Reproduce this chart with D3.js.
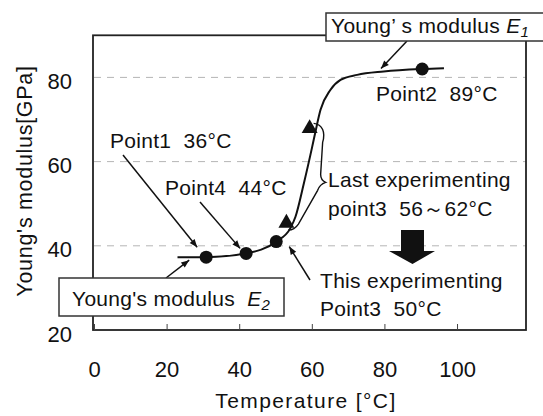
<!DOCTYPE html>
<html>
<head>
<meta charset="utf-8">
<script src="https://cdn.jsdelivr.net/npm/d3@7"></script>
<style>
body{margin:0;background:#fff}
text{font-family:"Liberation Sans",Arial,sans-serif;fill:#111}
</style>
</head>
<body>
<div id="main"></div>
<script>
// values (temperature in °C, modulus in GPa)
const curveTemp = [23, 30.9, 41.9, 50.2, 54.1, 55.5, 57.8, 60.1, 61, 62.4, 65.1, 67.9, 72.5, 79.8, 90.4, 96.4]
const curveMod = [37.3, 37.3, 38.2, 41.0, 44.2, 46.9, 54.8, 63.5, 67.1, 72.3, 77.0, 79.4, 80.6, 81.4, 82.0, 82.2]
const pointTemp = [30.9, 41.9, 50.2, 90.4]
const pointMod = [37.3, 38.2, 41.0, 82.0]
const triTemp = [53.0, 59.4]
const triMod = [45.4, 67.9]
const xTicks = [0, 20, 40, 60, 80, 100]
const yTicks = [20, 40, 60, 80]
const gridVals = [40, 60, 80]

const W = 543, H = 416

function initViz()
{
    let svg = d3.select("#main").append("svg").attr("width", W).attr("height", H)

    let x = d3.scaleLinear().domain([0, 119]).range([94, 526])
    let y = d3.scaleLinear().domain([20, 90]).range([330, 35.3])

    svg.append("defs").append("marker")
    .attr("id", "head")
    .attr("viewBox", "0 0 10 10")
    .attr("refX", 10).attr("refY", 5)
    .attr("markerWidth", 9).attr("markerHeight", 8)
    .attr("markerUnits", "userSpaceOnUse")
    .attr("orient", "auto")
    .append("path").attr("d", "M0,1L10,5L0,9Z").attr("fill", "#111")

    // dashed grid
    svg.selectAll(".grid")
    .data(gridVals)
    .enter()
    .append("line")
    .attr("class", "grid")
    .attr("x1", x(0)).attr("x2", x(119))
    .attr("y1", d => y(d)).attr("y2", d => y(d))
    .attr("stroke", "#b5b5b5")
    .attr("stroke-width", 1)
    .attr("stroke-dasharray", "7,6")

    // frame
    svg.append("rect")
    .attr("x", x(0) - 1).attr("y", y(90))
    .attr("width", x(119) - x(0) + 1).attr("height", y(20) - y(90))
    .attr("fill", "none").attr("stroke", "#222").attr("stroke-width", 1.8)

    let xAxis = svg.append("g")
    .attr("transform", "translate(0," + y(20) + ")")
    .call(d3.axisBottom(x).tickValues(xTicks).tickSize(-6).tickPadding(31))
    xAxis.select(".domain").remove()
    xAxis.selectAll("line").attr("stroke", "#444")
    xAxis.selectAll("text").style("font-size", "22px").attr("fill", "#111")

    let yAxis = svg.append("g")
    .attr("transform", "translate(" + (x(0) - 1) + ",0)")
    .call(d3.axisLeft(y).tickValues(yTicks).tickSize(0).tickPadding(21))
    yAxis.select(".domain").remove()
    yAxis.selectAll("text").style("font-size", "22px").attr("dy", "0.5em").attr("fill", "#111")

    svg.append("text")
    .text("Temperature [°C]")
    .attr("x", 306).attr("y", 408)
    .attr("text-anchor", "middle")
    .style("font-size", "21px")
    .style("letter-spacing", "1.4px")

    svg.append("text")
    .text("Young's modulus[GPa]")
    .attr("transform", "translate(32,181) rotate(-90)")
    .attr("text-anchor", "middle")
    .style("font-size", "21.5px")
    .style("letter-spacing", "0.7px")

    // curve
    let pts = curveTemp.map((t, i) => [t, curveMod[i]])
    let lineGenerator = d3.line()
    .x(d => x(d[0]))
    .y(d => y(d[1]))
    .curve(d3.curveMonotoneX)

    svg.append("path")
    .datum(pts)
    .attr("fill", "none")
    .attr("stroke", "#111")
    .attr("stroke-width", 2)
    .attr("d", lineGenerator)

    svg.selectAll(".pt")
    .data(pointTemp)
    .enter()
    .append("circle")
    .attr("class", "pt")
    .attr("cx", d => x(d))
    .attr("cy", (d, i) => y(pointMod[i]))
    .attr("r", 6.5)
    .attr("fill", "#111")

    svg.selectAll(".tri")
    .data(triTemp)
    .enter()
    .append("path")
    .attr("class", "tri")
    .attr("d", d3.symbol().type(d3.symbolTriangle).size(110))
    .attr("transform", (d, i) => "translate(" + x(d) + "," + y(triMod[i]) + ")")
    .attr("fill", "#111")

    // circle positions for the arrows
    let p1 = [x(pointTemp[0]), y(pointMod[0])]
    let p4 = [x(pointTemp[1]), y(pointMod[1])]
    let p3 = [x(pointTemp[2]), y(pointMod[2])]
    let t1 = [x(triTemp[0]), y(triMod[0])]
    let t2 = [x(triTemp[1]), y(triMod[1])]

    let arrows = [
        [123, 155, p1[0] - 9, p1[1] - 10],
        [200, 202, p4[0] - 6, p4[1] - 5],
        [310, 280, p3[0] + 13, p3[1] + 5],
        [166, 278, p1[0] - 17, p1[1] + 3],
        [407, 41, 381, 68.5]
    ]
    svg.selectAll(".arr")
    .data(arrows)
    .enter()
    .append("line")
    .attr("class", "arr")
    .attr("x1", d => d[0]).attr("y1", d => d[1])
    .attr("x2", d => d[2]).attr("y2", d => d[3])
    .attr("stroke", "#111")
    .attr("stroke-width", 1.5)
    .attr("marker-end", "url(#head)")

    // brace next to the two triangles
    let bx = t2[0], by = t2[1]
    let brace = "M" + (bx + 4) + "," + (by - 5)
        + " C" + (bx + 13) + "," + (by - 4) + " " + (bx + 16) + "," + (by + 4) + " " + (bx + 13) + "," + (by + 14)
        + " L" + (bx + 11) + "," + (by + 46)
        + " Q" + (bx + 11) + "," + (by + 52) + " " + (bx + 16) + "," + (by + 54)
        + " Q" + (bx + 10) + "," + (by + 56) + " " + (bx + 8) + "," + (by + 62)
        + " L" + (t1[0] + 12) + "," + (t1[1] + 1)
        + " Q" + (t1[0] + 8) + "," + (t1[1] + 7) + " " + (t1[0] + 2) + "," + (t1[1] + 7)
    svg.append("path")
    .attr("d", brace)
    .attr("fill", "none")
    .attr("stroke", "#111")
    .attr("stroke-width", 1.4)

    // big arrow down
    svg.append("path")
    .attr("d", "M401,230 L424,230 L424,251 L435,251 L412.5,264 L389,251 L401,251 Z")
    .attr("fill", "#111")

    let labels = [
        ["Point1  36°C", 110, 148],
        ["Point4  44°C", 165, 194.5],
        ["Point2  89°C", 376, 101],
        ["Last experimenting", 328, 187],
        ["point3  56～62°C", 328, 216],
        ["This experimenting", 320, 288],
        ["Point3  50°C", 320, 315.5]
    ]
    svg.selectAll(".lab")
    .data(labels)
    .enter()
    .append("text")
    .attr("class", "lab")
    .text(d => d[0])
    .attr("x", d => d[1]).attr("y", d => d[2])
    .style("font-size", "21px")
    .style("letter-spacing", "0.3px")
    .style("white-space", "pre")

    // E1 box
    svg.append("rect")
    .attr("x", 326).attr("y", 13).attr("width", 224).attr("height", 28)
    .attr("fill", "#fff").attr("stroke", "#333").attr("stroke-width", 1.5)
    let e1 = svg.append("text").attr("x", 331).attr("y", 33).style("font-size", "21px")
    .style("letter-spacing", "0.3px").style("white-space", "pre")
    e1.append("tspan").text("Young’ s modulus ")
    e1.append("tspan").text("E").style("font-style", "italic")
    e1.append("tspan").text("1").style("font-style", "italic").style("font-size", "15px").attr("dy", 4)

    // E2 box
    svg.append("rect")
    .attr("x", 59).attr("y", 278).attr("width", 225).attr("height", 38)
    .attr("fill", "#fff").attr("stroke", "#333").attr("stroke-width", 1.5)
    let e2 = svg.append("text").attr("x", 72).attr("y", 306).style("font-size", "21px")
    .style("letter-spacing", "0.3px").style("white-space", "pre")
    e2.append("tspan").text("Young's modulus  ")
    e2.append("tspan").text("E").style("font-style", "italic")
    e2.append("tspan").text("2").style("font-style", "italic").style("font-size", "15px").attr("dy", 4)
}

initViz()
</script>
</body>
</html>
